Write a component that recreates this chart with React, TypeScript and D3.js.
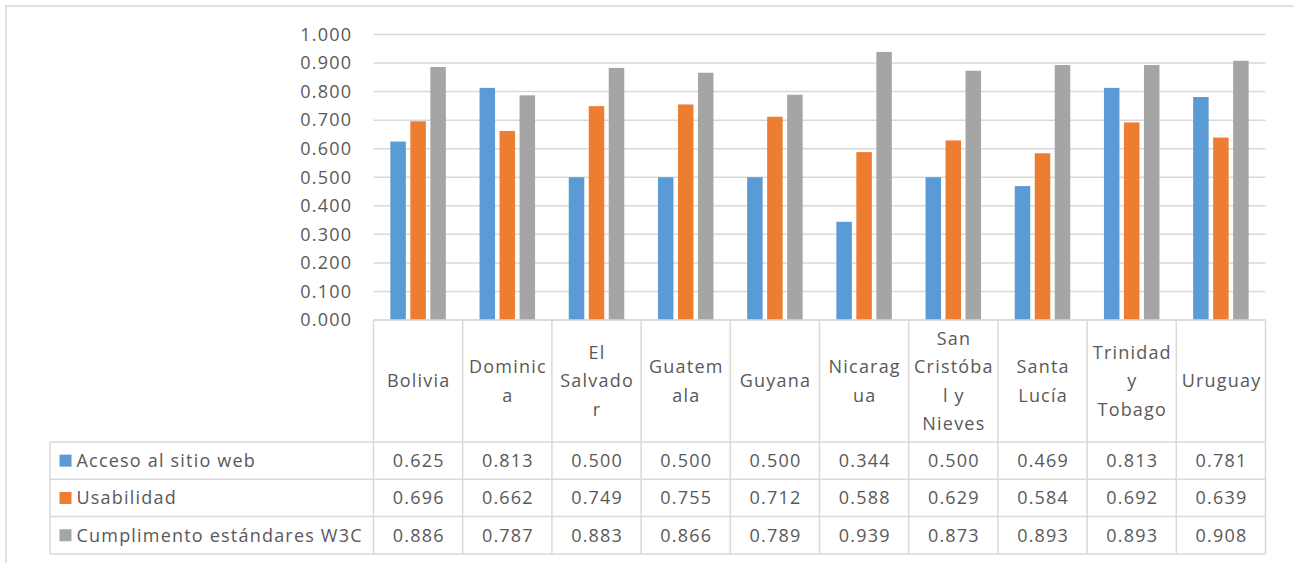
import React from "react";
import * as d3 from "d3";

const categories = ["Bolivia", "Dominica", "El Salvador", "Guatemala", "Guyana", "Nicaragua", "San Cristóbal y Nieves", "Santa Lucía", "Trinidad y Tobago", "Uruguay"];
const categoryLines = [["Bolivia"], ["Dominic", "a"], ["El", "Salvado", "r"], ["Guatem", "ala"], ["Guyana"], ["Nicarag", "ua"], ["San", "Cristóba", "l y", "Nieves"], ["Santa", "Lucía"], ["Trinidad", "y", "Tobago"], ["Uruguay"]];
const seriesNames = ["Acceso al sitio web", "Usabilidad", "Cumplimento estándares W3C"];
const acceso = [0.625, 0.813, 0.5, 0.5, 0.5, 0.344, 0.5, 0.469, 0.813, 0.781];
const usabilidad = [0.696, 0.662, 0.749, 0.755, 0.712, 0.588, 0.629, 0.584, 0.692, 0.639];
const cumplimiento = [0.886, 0.787, 0.883, 0.866, 0.789, 0.939, 0.873, 0.893, 0.893, 0.908];
const yTicks = [0, 0.1, 0.2, 0.3, 0.4, 0.5, 0.6, 0.7, 0.8, 0.9, 1.0];
const colors = ["#5B9BD5", "#ED7D31", "#A5A5A5"];

const seriesValues = [acceso, usabilidad, cumplimiento];

export default function App() {
  const W = 1294, H = 563;
  const left = 373.5, right = 1265.5;
  const yTop = 34.5, yBase = 320;
  const tableLeft = 50;
  const headerBottom = 442;
  const rowH = 37.3;
  const gridColor = "#D9D9D9";
  const textColor = "#595959";
  const font = "'Open Sans', sans-serif";
  const fs = 18;
  const ls = 1.2;

  const x0 = d3.scaleBand<string>().domain(categories).range([left, right]).paddingInner(0).paddingOuter(0);
  const y = d3.scaleLinear().domain([0, 1]).range([yBase, yTop]);
  const fmt = d3.format(".3f");
  const groupW = 55.5;

  const lineH = 28.5;
  const headerMid = (yBase + headerBottom) / 2;

  return (
    <svg width={W} height={H} style={{ position: "absolute", left: 0, top: 0, background: "#fff" }} fontFamily={font} letterSpacing={ls}>
      <rect x={6} y={6} width={W + 20} height={H + 20} fill="#fff" stroke={gridColor} strokeWidth={1.5} />
      {/* gridlines */}
      {yTicks.map((t) => (
        <line key={"g" + t} x1={left} x2={right} y1={y(t)} y2={y(t)} stroke={gridColor} strokeWidth={1.5} />
      ))}
      {/* y tick labels */}
      {yTicks.map((t) => (
        <text key={"t" + t} x={351 + ls} y={y(t)} dy="0.35em" textAnchor="end" fontSize={fs} fill={textColor}>
          {fmt(t)}
        </text>
      ))}
      {/* bars */}
      {categories.map((c, i) => {
        const cx = (x0(c) as number) + x0.bandwidth() / 2;
        const x1 = d3.scaleBand<string>().domain(seriesNames).range([cx - groupW / 2, cx + groupW / 2]).paddingInner(4.5 / 20);
        return seriesNames.map((s, si) => (
          <rect
            key={c + s}
            x={x1(s) as number}
            width={x1.bandwidth()}
            y={y(seriesValues[si][i])}
            height={yBase - y(seriesValues[si][i])}
            fill={colors[si]}
          />
        ));
      })}
      {/* table lines */}
      <g stroke={gridColor} strokeWidth={1.5}>
        <line x1={left} x2={right} y1={yBase} y2={yBase} />
        {categories.map((c) => (
          <line key={"v" + c} x1={x0(c) as number} x2={x0(c) as number} y1={yBase} y2={headerBottom + 3 * rowH} />
        ))}
        <line x1={right} x2={right} y1={yBase} y2={headerBottom + 3 * rowH} />
        <line x1={tableLeft} x2={tableLeft} y1={headerBottom} y2={headerBottom + 3 * rowH} />
        {[0, 1, 2, 3].map((r) => (
          <line key={"h" + r} x1={tableLeft} x2={right} y1={headerBottom + r * rowH} y2={headerBottom + r * rowH} />
        ))}
      </g>
      {/* header labels */}
      {categories.map((c, i) => {
        const cx = (x0(c) as number) + x0.bandwidth() / 2 + ls / 2;
        const lines = categoryLines[i];
        const start = headerMid - ((lines.length - 1) * lineH) / 2;
        return lines.map((l, li) => (
          <text key={c + li} x={cx} y={start + li * lineH} dy="0.35em" textAnchor="middle" fontSize={fs} fill={textColor}>
            {l}
          </text>
        ));
      })}
      {/* rows */}
      {seriesNames.map((s, si) => {
        const cy = headerBottom + si * rowH + rowH / 2;
        return (
          <g key={"row" + s}>
            <rect x={59.5} y={cy - 6} width={12} height={12} fill={colors[si]} />
            <text x={76.5} y={cy} dy="0.35em" fontSize={fs} fill={textColor}>
              {s}
            </text>
            {categories.map((c, i) => (
              <text key={c} x={(x0(c) as number) + x0.bandwidth() / 2 + ls / 2} y={cy} dy="0.35em" textAnchor="middle" fontSize={fs} fill={textColor}>
                {fmt(seriesValues[si][i])}
              </text>
            ))}
          </g>
        );
      })}
    </svg>
  );
}
